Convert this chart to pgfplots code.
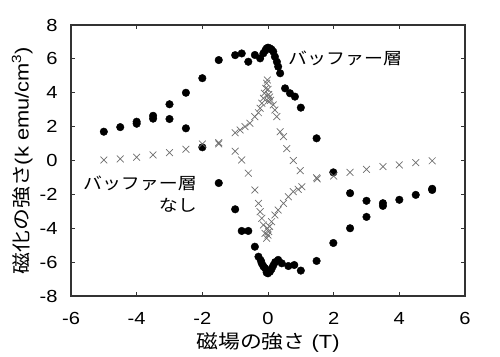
\documentclass[border=0pt]{standalone}
\usepackage{pgfplots}
\pgfplotsset{compat=1.18}
\usepackage{fontspec}
\setmainfont{Liberation Sans}[FakeStretch=1.15]
\newfontfamily\jp{Noto Sans CJK JP}[FakeStretch=1.15]
\definecolor{axgray}{HTML}{333333}
\definecolor{xgray}{HTML}{6E6E6E}
\begin{document}
\begin{tikzpicture}
\useasboundingbox (-71bp,-61bp) rectangle (429bp,296bp);
\begin{axis}[
  at={(0,0)}, anchor=south west,
  scale only axis, width=394bp, height=271bp,
  xmin=-6, xmax=6, ymin=-8, ymax=8,
  xtick={-6,-4,-2,0,2,4,6}, ytick={-8,-6,-4,-2,0,2,4,6,8},
  xticklabels={-6,-4,-2,0,2,4,6},
  yticklabels={-8,-6,-4,-2,0,2,4,6,8},
  tick align=inside, major tick length=4bp,
  tick style={axgray, line width=0.8bp},
  axis line style={axgray, line width=1.2bp},
  tick label style={font=\fontsize{17.5bp}{20bp}\selectfont, inner sep=0pt},
  xticklabel style={anchor=center, yshift=-22bp},
  yticklabel style={anchor=east, xshift=-13.3bp},
  xlabel={{\jp 磁場の強さ} (T)},
  ylabel={{\jp 磁化の強さ}(k emu/cm\textsuperscript{3})},
  label style={font=\fontsize{19bp}{22bp}\selectfont},
  xlabel style={at={(axis description cs:0.5,-0.17)}, anchor=center},
  ylabel style={at={(axis description cs:-0.124,0.5)}, anchor=center},
  clip=false,
]
\addplot[only marks, mark=*, mark size=3.8bp, black] coordinates {
(-5.0,1.70) (-4.5,1.97) (-4.0,2.29) (-4.0,2.17) (-3.5,2.64) (-3.5,2.47)
(-3.0,3.32) (-3.0,2.45) (-2.5,4.0) (-2.5,1.90) (-2.0,4.86) (-2.0,0.78)
(-1.5,5.93) (-1.5,-1.33) (-1.0,6.22) (-0.8,6.32) (-0.6,5.83) (-0.4,6.23)
(-0.24,6.03) (-0.14,6.33) (-0.08,6.50) (-0.04,6.62) (0.0,6.66) (0.06,6.62)
(0.11,6.55) (0.16,6.43) (0.21,6.13) (0.27,5.83) (0.31,5.54) (0.37,5.15)
(0.52,4.26) (0.67,3.97) (0.82,3.77) (1.0,3.12) (1.48,1.31) (1.99,-0.70)
(2.5,-1.93) (3.0,-2.38) (3.5,-2.52) (3.5,-2.68) (4.0,-2.32) (4.5,-2.03)
(5.0,-1.67) (5.0,-1.74)
(-1.0,-2.88) (-0.8,-4.16) (-0.6,-4.16) (-0.4,-5.09) (-0.29,-5.68) (-0.22,-5.90)
(-0.19,-6.07) (-0.14,-6.25) (-0.09,-6.36) (-0.04,-6.62) (0.0,-6.66) (0.06,-6.56)
(0.11,-6.40) (0.16,-6.20) (0.22,-6.0) (0.31,-5.87) (0.42,-6.07) (0.62,-6.23)
(0.80,-6.17) (1.0,-6.50) (1.48,-5.93) (1.99,-4.87) (2.5,-4.0) (3.0,-3.33)
};
\addplot[only marks, mark=x, mark size=4.8bp, xgray, mark options={line width=0.7bp}] coordinates {
(-5.0,0.03) (-4.5,0.09) (-4.0,0.19) (-3.5,0.33) (-3.0,0.46) (-2.5,0.66)
(-2.0,0.97) (-1.5,1.05) (-1.5,0.98) (-1.0,1.64) (-0.85,1.80) (-0.70,2.0)
(-0.55,2.2) (-0.40,2.59) (-0.29,2.82) (-0.24,3.08) (-0.19,3.38) (-0.14,3.67)
(-0.11,3.97) (-0.07,4.26) (-0.04,4.56) (-0.02,4.75) (0.0,4.2) (0.02,3.9)
(0.05,3.75) (0.0,3.5) (0.08,3.55) (0.16,3.28) (0.21,2.98) (0.27,2.59)
(0.37,1.70) (0.47,1.41) (0.57,0.70) (0.77,0.0) (0.98,-0.6) (1.48,-1.02)
(1.5,-1.08) (2.0,-0.92) (2.5,-0.70) (3.0,-0.52) (3.5,-0.36) (4.0,-0.26)
(4.5,-0.13) (5.0,-0.02)
(1.03,-1.55) (0.92,-1.70) (0.77,-1.84) (0.62,-2.14) (0.47,-2.53) (0.31,-2.92)
(0.21,-3.22) (0.11,-3.61) (0.05,-3.9) (0.02,-4.2) (0.0,-4.4) (-0.02,-4.0)
(-0.04,-4.59) (-0.09,-4.30) (-0.14,-3.81) (-0.19,-3.41) (-0.24,-3.02) (-0.29,-2.53)
(-0.40,-1.74) (-0.60,-0.75) (-0.80,0.03) (-1.0,0.55)
};
\node[anchor=west, inner sep=0pt, font=\jp\fontsize{16.5bp}{20bp}\selectfont] at (axis cs:0.61,6.05) {バッファー層};
\node[anchor=east, inner sep=0pt, align=right, font=\jp\fontsize{16.5bp}{22bp}\selectfont] at (axis cs:-2.16,-1.98) {バッファー層\\なし};
\end{axis}
\end{tikzpicture}
\end{document}
